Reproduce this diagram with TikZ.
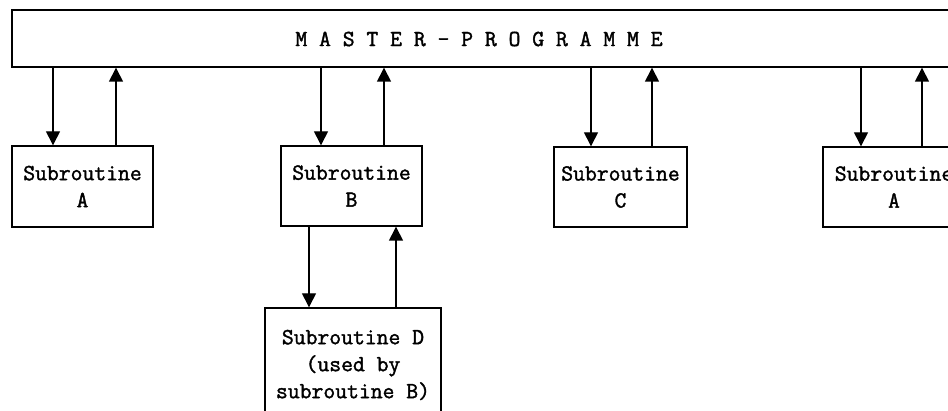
\documentclass[tikz,border=0pt]{standalone}
\usepackage{fontspec}
\newfontfamily\tw[FakeBold=1.6]{Latin Modern Mono}
\usetikzlibrary{arrows.meta}
\begin{document}
\begin{tikzpicture}[x=1pt,y=1pt,
  box/.style={draw,line width=1.4pt,inner sep=0pt,align=center,
    font=\tw\fontsize{23}{27}\selectfont},
  lbl/.style={inner sep=0pt,font=\tw\fontsize{23}{27}\selectfont},
  arr/.style={line width=1.4pt,-{Triangle[width=14pt,length=14pt]}}]
\useasboundingbox (0,0) rectangle (948,-411);
\clip (0,0) rectangle (948,-411);
\node[box,minimum width=958,minimum height=57] (master) at (491,-38.5) {};
\node[lbl] (mastertext) at (479,-39) {M A S T E R - P R O G R A M M E};
\node[box,minimum width=141,minimum height=81] (subA) at (82.5,-186.5) {Subroutine\\A};
\node[box,minimum width=141,minimum height=80] (subB) at (351.5,-186) {Subroutine\\B};
\node[box,minimum width=133,minimum height=80] (subC) at (620.5,-187) {Subroutine\\C};
\node[box,minimum width=142,minimum height=80] (subA2) at (894,-187) {Subroutine\\A};
\node[box,minimum width=176,minimum height=114] (subD) at (353,-365) {Subroutine D\\(used by\\subroutine B)};
\coordinate (a1) at ([xshift=-29.5pt]subA.north);
\coordinate (a2) at ([xshift=33.5pt]subA.north);
\coordinate (b1) at ([xshift=-30.5pt]subB.north);
\coordinate (b2) at ([xshift=32.5pt]subB.north);
\coordinate (c1) at ([xshift=-29.5pt]subC.north);
\coordinate (c2) at ([xshift=31.5pt]subC.north);
\coordinate (e1) at ([xshift=-33pt]subA2.north);
\coordinate (e2) at ([xshift=28pt]subA2.north);
\coordinate (d1) at ([xshift=-44pt]subD.north);
\coordinate (d2) at ([xshift=43pt]subD.north);
\draw[arr] (a1 |- master.south) -- (a1);
\draw[arr] (a2) -- (a2 |- master.south);
\draw[arr] (b1 |- master.south) -- (b1);
\draw[arr] (b2) -- (b2 |- master.south);
\draw[arr] (c1 |- master.south) -- (c1);
\draw[arr] (c2) -- (c2 |- master.south);
\draw[arr] (e1 |- master.south) -- (e1);
\draw[arr] (e2) -- (e2 |- master.south);
\draw[arr] (d1 |- subB.south) -- (d1);
\draw[arr] (d2) -- (d2 |- subB.south);
\end{tikzpicture}
\end{document}
